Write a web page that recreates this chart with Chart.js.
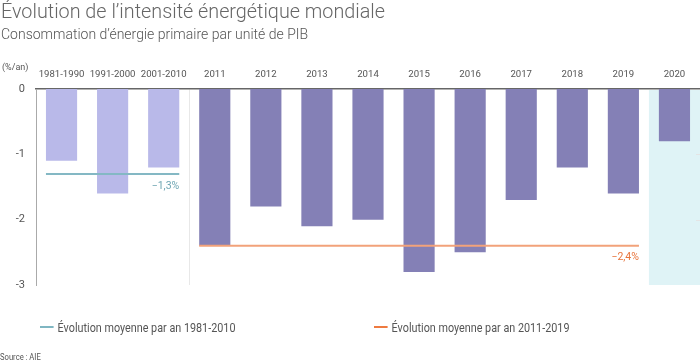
<!DOCTYPE html>
<html>
<head>
<meta charset="utf-8">
<script src="https://cdn.jsdelivr.net/npm/chart.js@4/dist/chart.umd.min.js"></script>
<style>
  html, body { margin:0; padding:0; background:#fff; }
  body { width:700px; height:364px; position:relative; overflow:hidden; font-family: Roboto, "Noto Sans", sans-serif; }
  #wrap { position:absolute; left:0; top:0; width:700px; height:364px; }
  .title { position:absolute; left:1px; top:0px; font-size:19.8px; font-weight:300; color:#666; white-space:nowrap; }
  .subtitle { position:absolute; left:1px; top:26px; font-size:14px; font-weight:300; color:#555; white-space:nowrap; }
  .unit { position:absolute; left:2px; top:62px; font-size:9px; color:#555; }
  .legend { position:absolute; top:319px; font-family:Roboto, sans-serif; font-size:13.5px; color:#555; white-space:nowrap; transform:scaleX(0.8); transform-origin:0 50%; }
  .legend .sw { display:inline-block; width:17px; height:2px; vertical-align:middle; margin-right:5px; position:relative; top:-1px; }
  .source { position:absolute; left:0; top:352px; font-family:Roboto, sans-serif; font-size:9px; color:#555; transform:scaleX(0.85); transform-origin:0 50%; }
</style>
</head>
<body>
<div id="wrap"><canvas id="c" width="700" height="364"></canvas></div>
<div class="title">Évolution de l’intensité énergétique mondiale</div>
<div class="subtitle">Consommation d’énergie primaire par unité de PIB</div>
<div class="unit">(%/an)</div>
<div class="legend" style="left:40px"><span class="sw" style="background:#7fb6c2"></span>Évolution moyenne par an 1981-2010</div>
<div class="legend" style="left:374px"><span class="sw" style="background:#ee7a40"></span>Évolution moyenne par an 2011-2019</div>
<div class="source">Source : AIE</div>
<script>
// ---- data ----
const categories = ['1981-1990','1991-2000','2001-2010','2011','2012','2013','2014','2015','2016','2017','2018','2019','2020'];
const values = [-1.1, -1.6, -1.2, -2.4, -1.8, -2.1, -2.0, -2.8, -2.5, -1.7, -1.2, -1.6, -0.8];
const periodCategories = ['1981-1990','1991-2000','2001-2010'];
const avgValues = [-1.3, -2.4];
const avgLabels = ['−1,3%', '−2,4%'];
const avgFrom = ['1981-1990', '2011'];
const avgTo = ['2001-2010', '2019'];
const highlightCategory = '2020';
const yTicks = [0, -1, -2, -3];

const avgColors = ['#84b8c4', '#f2a27a'];
const avgTextColors = ['#6fa6b3', '#e8743b'];

Chart.defaults.font.family = 'Roboto, "Noto Sans", sans-serif';
Chart.defaults.color = '#555';

const overlay = {
  id: 'overlay',
  beforeDatasetsDraw(chart) {
    const ctx = chart.ctx, x = chart.scales.x, a = chart.chartArea;
    const idx = categories.indexOf(highlightCategory);
    const half = (x.getPixelForValue(1) - x.getPixelForValue(0)) / 2;
    const left = x.getPixelForValue(idx) - half;
    ctx.save();
    ctx.fillStyle = '#dff3f6';
    ctx.fillRect(left, a.top + 1, a.right - left, a.bottom - a.top - 1);
    // faint right-edge tick marks
    ctx.strokeStyle = '#e4e4e4';
    ctx.lineWidth = 1;
    yTicks.slice(1, 3).forEach(v => {
      const py = Math.round(chart.scales.y.getPixelForValue(v)) + 0.5;
      ctx.beginPath(); ctx.moveTo(a.right - 4, py); ctx.lineTo(a.right, py); ctx.stroke();
    });
    ctx.restore();
  },
  afterDatasetsDraw(chart) {
    const ctx = chart.ctx, y = chart.scales.y;
    const meta = chart.getDatasetMeta(0);
    ctx.save();
    avgValues.forEach((v, k) => {
      const b0 = meta.data[categories.indexOf(avgFrom[k])];
      const b1 = meta.data[categories.indexOf(avgTo[k])];
      const x0 = b0.x - b0.width / 2, x1 = b1.x + b1.width / 2;
      const py = y.getPixelForValue(v);
      ctx.strokeStyle = avgColors[k];
      ctx.lineWidth = 2;
      ctx.beginPath(); ctx.moveTo(x0, py); ctx.lineTo(x1, py); ctx.stroke();
      ctx.fillStyle = avgTextColors[k];
      ctx.font = '10.5px Roboto, sans-serif';
      ctx.textAlign = 'right';
      ctx.textBaseline = 'middle';
      ctx.fillText(avgLabels[k], x1, py + 12);
    });
    ctx.restore();
  }
};

new Chart(document.getElementById('c'), {
  type: 'bar',
  data: {
    labels: categories,
    datasets: [{
      data: values,
      backgroundColor: categories.map(c => periodCategories.includes(c) ? '#b9b9e9' : '#8480b6'),
      borderWidth: 0,
      categoryPercentage: 1,
      barPercentage: 0.61
    }]
  },
  options: {
    responsive: false,
    animation: false,
    layout: { padding: { top: 0, left: 0, right: 0, bottom: 79 } },
    plugins: { legend: { display: false }, tooltip: { enabled: false } },
    scales: {
      x: {
        position: 'top',
        afterFit(s) { s.height = 89; },
        border: { display: true, color: '#666', width: 1.5 },
        grid: {
          drawTicks: false,
          offset: true,
          color: (c) => c.index === categories.indexOf('2011') ? '#e8e8e8' : 'rgba(0,0,0,0)',
          lineWidth: 1
        },
        ticks: { padding: 9, font: { size: 9.6 }, color: '#555', maxRotation: 0, autoSkip: false }
      },
      y: {
        min: -3, max: 0,
        afterFit(s) { s.width = 36; },
        afterBuildTicks(s) { s.ticks = yTicks.map(v => ({ value: v })); },
        border: { display: true, color: '#aaa', width: 1 },
        grid: { display: false, drawTicks: false },
        ticks: { padding: 11, font: { size: 11 }, color: '#555' }
      }
    }
  },
  plugins: [overlay]
});
</script>
</body>
</html>
